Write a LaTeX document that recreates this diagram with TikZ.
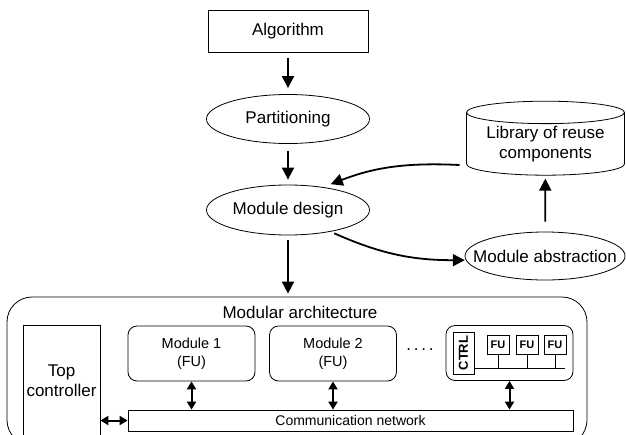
\documentclass[tikz,border=0pt]{standalone}
\usepackage{fontspec}
\setmainfont{Liberation Sans}
\usetikzlibrary{shapes.geometric,arrows.meta}

\begin{document}
\begin{tikzpicture}[x=1pt,y=-1pt,line width=0.8pt,
  every node/.style={font=\fontsize{17}{20}\selectfont},
  box/.style={draw,rectangle,inner sep=0pt},
  oval/.style={draw,ellipse,minimum width=163pt,minimum height=49pt,inner sep=0pt},
  modbox/.style={draw,rounded corners=9pt,minimum width=127pt,minimum height=55pt,align=center,font=\fontsize{14.5}{18}\selectfont},
  fubox/.style={draw,minimum width=22pt,minimum height=19pt,inner sep=0pt,font=\bfseries\fontsize{11}{12}\selectfont},
  flow/.style={-{Triangle[length=12pt,width=12pt]},line width=1.8pt},
  link/.style={{Triangle[length=8pt,width=9pt]}-{Triangle[length=8pt,width=9pt]},line width=2pt}]
            \useasboundingbox (0,0) rectangle (626,434);

            \node[box,minimum width=160pt,minimum height=42pt] (alg) at (288,31) {Algorithm};
            \node[oval] (part) at (288,119) {Partitioning};
            \node[oval,minimum height=50pt] (design) at (288,210) {Module design};
            \node[draw,cylinder,shape border rotate=90,aspect=0.19,minimum width=158pt,minimum height=74pt,
                  inner sep=0pt,align=center] (lib) at (545.5,144) {Library of reuse\\components};
            \node[oval,minimum width=160pt,minimum height=48pt,inner xsep=-16pt] (abs) at (545,256) {Module abstraction};

            \node[draw,rounded corners=25pt,minimum width=580pt,minimum height=148pt] (arch) at (297,371) {};
            \node (archlabel) at (300,312) {Modular architecture};
            \node[box,minimum width=77pt,minimum height=112pt,align=center] (top) at (61.5,381) {Top\\controller};
            \node[modbox] (m1) at (191.5,353.5) {Module 1\\(FU)};
            \node[modbox] (m2) at (333,353.5) {Module 2\\(FU)};
            \node (dots) at (420,350) {.\,.\,.\,.};
            \node[modbox] (m3) at (509.5,353) {};
            \node[box,rotate=90,minimum width=42pt,minimum height=21pt,
                  font=\bfseries\fontsize{13}{14}\selectfont] (ctrl) at (463.5,353) {CTRL};
            \node[fubox] (fu1) at (498,344.5) {FU};
            \node[fubox] (fu2) at (527,344.5) {FU};
            \node[fubox] (fu3) at (555,344.5) {FU};
            \coordinate (bus) at (565,368);
            \node[box,minimum width=445pt,minimum height=21pt,font=\fontsize{14}{16}\selectfont] (net) at (350.5,420.5) {Communication network};

            \draw (ctrl.south |- bus) -- (bus);
            \foreach \f in {fu1,fu2,fu3}
                \draw (\f) -- (\f |- bus);

            \path [flow,shorten <=6pt,shorten >=6pt] (alg) edge (part);
            \path [flow,shorten <=7pt,shorten >=5pt] (part) edge (design);
            \path [flow,shorten <=5pt,shorten >=3pt] (design) edge (design |- arch.north);
            \path [flow] ([xshift=-86pt,yshift=-21pt]lib.center) edge[bend right=12,shorten >=8pt] (design.33);
            \path [flow,shorten <=4pt,shorten >=1pt] (design.-27) edge[bend right=12] (abs.183);
            \path [flow,shorten <=10pt,shorten >=3pt] (abs) edge (lib);

            \path [link] (m1) edge (m1 |- net.north);
            \path [link] (m2) edge (m2 |- net.north);
            \path [link] (m3) edge (m3 |- net.north);
            \path [link] (top.east |- net) edge (net.west);
        \end{tikzpicture}
\end{document}
